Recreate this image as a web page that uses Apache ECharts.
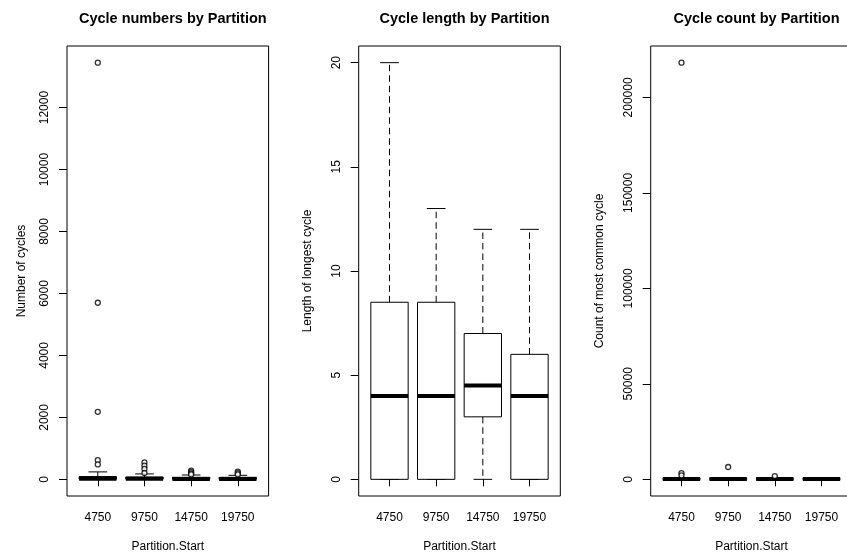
<!DOCTYPE html>
<html>
<head>
<meta charset="utf-8">
<script src="https://cdn.jsdelivr.net/npm/echarts@6/dist/echarts.min.js"></script>
<style>
html,body{margin:0;padding:0;background:#fff;}
#chart{width:847px;height:553px;}
</style>
</head>
<body>
<div id="chart"></div>
<script>
// ---- data ----
var categories = ['4750', '9750', '14750', '19750'];

// [lower whisker, Q1, median, Q3, upper whisker]
var cycleNumberStats = [
  [0, 5, 20, 90, 240],
  [0, 5, 15, 75, 175],
  [0, 3, 10, 65, 140],
  [0, 3, 10, 65, 130]
];
var cycleNumberOutliers = [
  [13450, 5700, 2180, 620, 480],
  [550, 440, 335, 205],
  [280, 230, 190, 160],
  [250, 200, 160]
];

var cycleLengthStats = [
  [0, 0, 4, 8.5, 20],
  [0, 0, 4, 8.5, 13],
  [0, 3, 4.5, 7, 12],
  [0, 0, 4, 6, 12]
];
var cycleLengthOutliers = [[], [], [], []];

var cycleCountStats = [
  [0, 50, 150, 400, 900],
  [0, 50, 150, 400, 900],
  [0, 40, 120, 350, 800],
  [0, 40, 120, 350, 800]
];
var cycleCountOutliers = [
  [218200, 3300, 2100],
  [6460],
  [1700],
  []
];

var yTicksNumbers = [0, 2000, 4000, 6000, 8000, 10000, 12000];
var yTicksLength = [0, 5, 10, 15, 20];
var yTicksCount = [0, 50000, 100000, 150000, 200000];

var panelTitles = ['Cycle numbers by Partition', 'Cycle length by Partition', 'Cycle count by Partition'];
var yNames = ['Number of cycles', 'Length of longest cycle', 'Count of most common cycle'];
var xName = 'Partition.Start';

// ---- layout ----
var FONT = 'Liberation Sans, Arial, Helvetica, sans-serif';
var gridLefts = [67, 358.7, 650.7];
var gridW = 201.6, gridTop = 46, gridH = 450;

function extent(stats, outs) {
  var lo = Infinity, hi = -Infinity;
  stats.forEach(function (s) { s.forEach(function (v) { lo = Math.min(lo, v); hi = Math.max(hi, v); }); });
  outs.forEach(function (o) { o.forEach(function (v) { lo = Math.min(lo, v); hi = Math.max(hi, v); }); });
  var pad = (hi - lo) * 0.04;
  return [lo - pad, hi + pad];
}

var panels = [
  { stats: cycleNumberStats, outs: cycleNumberOutliers, ticks: yTicksNumbers },
  { stats: cycleLengthStats, outs: cycleLengthOutliers, ticks: yTicksLength },
  { stats: cycleCountStats, outs: cycleCountOutliers, ticks: yTicksCount }
];

var grids = [], xAxes = [], yAxes = [], series = [], titles = [];
var xTickVals = categories.map(function (c, i) { return i + 1; });

function renderBox(params, api) {
  var x = api.value(0);
  var mn = api.value(1), q1 = api.value(2), md = api.value(3), q3 = api.value(4), mx = api.value(5);
  var hw = 0.4, sw = 0.2;
  var pL = api.coord([x - hw, q3]), pR = api.coord([x + hw, q1]);
  var pc = function (v) { return api.coord([x, v]); };
  var lineStyle = { stroke: '#000', lineWidth: 1 };
  var dashStyle = { stroke: '#000', lineWidth: 1, lineDash: [6.5, 4] };
  var children = [];
  function line(a, b, st) {
    children.push({ type: 'line', shape: { x1: a[0], y1: a[1], x2: b[0], y2: b[1] }, style: st });
  }
  if (mx > q3) line(pc(q3), pc(mx), dashStyle);
  if (mn < q1) line(pc(q1), pc(mn), dashStyle);
  line(api.coord([x - sw, mx]), api.coord([x + sw, mx]), lineStyle);
  line(api.coord([x - sw, mn]), api.coord([x + sw, mn]), lineStyle);
  children.push({
    type: 'rect',
    shape: { x: pL[0], y: pL[1], width: pR[0] - pL[0], height: pR[1] - pL[1] },
    style: { fill: '#fff', stroke: '#000', lineWidth: 1 }
  });
  line(api.coord([x - hw, md]), api.coord([x + hw, md]), { stroke: '#000', lineWidth: 4 });
  return { type: 'group', children: children };
}

panels.forEach(function (p, k) {
  var ext = extent(p.stats, p.outs);
  grids.push({ left: gridLefts[k], top: gridTop, width: gridW, height: gridH, show: true,
    outerBoundsMode: 'none', containLabel: false,
    borderColor: '#000', borderWidth: 1, backgroundColor: 'transparent' });
  xAxes.push({
    type: 'value', gridIndex: k, min: 0.34, max: 4.66,
    name: xName, nameLocation: 'middle', nameGap: 45,
    nameTextStyle: { fontFamily: FONT, fontSize: 12, color: '#000' },
    axisLine: { show: false }, splitLine: { show: false },
    axisTick: { show: true, length: 7, customValues: xTickVals, lineStyle: { color: '#000', width: 1 } },
    axisLabel: { customValues: xTickVals, margin: 16, fontFamily: FONT, fontSize: 12, color: '#000',
      formatter: function (v) { return categories[Math.round(v) - 1]; } }
  });
  yAxes.push({
    type: 'value', gridIndex: k, min: ext[0], max: ext[1],
    name: yNames[k], nameLocation: 'middle', nameRotate: 90, nameGap: k === 0 ? 39 : 44.7,
    nameTextStyle: { fontFamily: FONT, fontSize: 12, color: '#000' },
    axisLine: { show: false }, splitLine: { show: false },
    axisTick: { show: true, length: 8, customValues: p.ticks, lineStyle: { color: '#000', width: 1 } },
    axisLabel: { customValues: p.ticks, rotate: 90, margin: 16, fontFamily: FONT, fontSize: 12, color: '#000',
      formatter: function (v) { return String(v); } }
  });
  series.push({
    type: 'custom', xAxisIndex: k, yAxisIndex: k, renderItem: renderBox,
    encode: { x: 0, y: [1, 2, 3, 4, 5] },
    data: p.stats.map(function (s, i) { return [i + 1].concat(s); })
  });
  var od = [];
  p.outs.forEach(function (arr, i) { arr.forEach(function (v) { od.push([i + 1, v]); }); });
  series.push({
    type: 'scatter', xAxisIndex: k, yAxisIndex: k, data: od, symbol: 'circle', symbolSize: 5,
    itemStyle: { color: '#fff', borderColor: '#000', borderWidth: 1.3 }, z: 5
  });
  titles.push({
    text: panelTitles[k], left: gridLefts[k] + gridW / 2, top: 6, textAlign: 'center',
    textStyle: { fontFamily: FONT, fontSize: 14.5, fontWeight: 'bold', color: '#000' }
  });
});

var chart = echarts.init(document.getElementById('chart'), null, { renderer: 'canvas' });
chart.setOption({
  animation: false,
  backgroundColor: '#fff',
  title: titles,
  grid: grids,
  xAxis: xAxes,
  yAxis: yAxes,
  series: series
});
</script>
</body>
</html>
